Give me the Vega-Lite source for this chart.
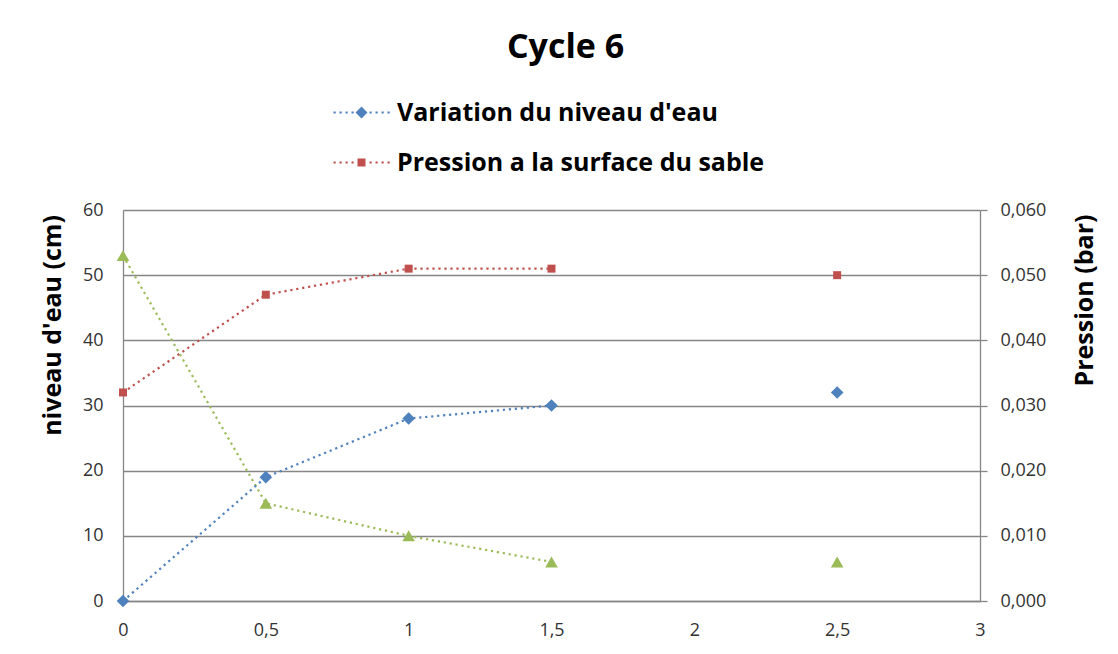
{
  "$schema": "https://vega.github.io/schema/vega-lite/v6.json",
  "width": 857,
  "height": 391,
  "autosize": {"type": "none"},
  "padding": {"left": 123, "top": 210, "right": 138, "bottom": 53},
  "background": "white",
  "config": {"view": {"stroke": null}, "font": "Open Sans"},
  "title": {"text": "Cycle 6", "font": "Open Sans", "fontSize": 34, "fontWeight": "bold", "color": "black", "anchor": "middle", "frame": "group", "dx": 14, "offset": 35},
  "data": {"values": [
    {"t": 0, "serie": "Variation du niveau d'eau", "value": 0},
    {"t": 0.5, "serie": "Variation du niveau d'eau", "value": 19},
    {"t": 1, "serie": "Variation du niveau d'eau", "value": 28},
    {"t": 1.5, "serie": "Variation du niveau d'eau", "value": 30},
    {"t": 2, "serie": "Variation du niveau d'eau", "value": null},
    {"t": 2.5, "serie": "Variation du niveau d'eau", "value": 32},
    {"t": 0, "serie": "Pression a la surface du sable", "value": 0.032},
    {"t": 0.5, "serie": "Pression a la surface du sable", "value": 0.047},
    {"t": 1, "serie": "Pression a la surface du sable", "value": 0.051},
    {"t": 1.5, "serie": "Pression a la surface du sable", "value": 0.051},
    {"t": 2, "serie": "Pression a la surface du sable", "value": null},
    {"t": 2.5, "serie": "Pression a la surface du sable", "value": 0.050},
    {"t": 0, "serie": "Série 3", "value": 53},
    {"t": 0.5, "serie": "Série 3", "value": 15},
    {"t": 1, "serie": "Série 3", "value": 10},
    {"t": 1.5, "serie": "Série 3", "value": 6},
    {"t": 2, "serie": "Série 3", "value": null},
    {"t": 2.5, "serie": "Série 3", "value": 6}
  ]},
  "encoding": {
    "x": {
      "field": "t", "type": "quantitative",
      "scale": {"domain": [0, 3], "nice": false, "zero": false},
      "axis": {
        "values": [0, 0.5, 1, 1.5, 2, 2.5, 3],
        "labelExpr": "replace(format(datum.value, ''), '.', ',')",
        "ticks": false, "grid": false,
        "domainColor": "#868686", "domainWidth": 1.3,
        "labelFontSize": 18, "labelColor": "#333333", "labelPadding": 20,
        "labelFont": "Open Sans", "labelFlush": false,
        "title": null
      }
    }
  },
  "layer": [
    {
      "encoding": {
        "y": {
          "field": "value", "type": "quantitative",
          "scale": {"domain": [0, 60], "nice": false},
          "axis": {
            "orient": "left",
            "values": [0, 10, 20, 30, 40, 50, 60],
            "grid": true, "gridColor": "#868686", "gridWidth": 1.3,
            "ticks": false,
            "domainColor": "#868686", "domainWidth": 1.3,
            "labelFontSize": 18, "labelColor": "#333333", "labelPadding": 20, "labelFont": "Open Sans",
            "title": "niveau d'eau (cm)",
            "titleFont": "Open Sans", "titleFontSize": 25, "titleFontWeight": "bold", "titleColor": "black",
            "titleAngle": 270, "titleX": -63, "titleY": 115, "titleAlign": "center", "titleBaseline": "alphabetic"
          }
        }
      },
      "layer": [
        {
          "transform": [{"filter": "datum.serie === 'Série 3'"}],
          "mark": {"type": "line", "color": "#9BBB59", "strokeWidth": 2.2, "strokeDash": [2.2, 3.8], "strokeCap": "butt", "invalid": "break-paths-show-domains"}
        },
        {
          "transform": [{"filter": "datum.serie === 'Série 3' && datum.value != null"}],
          "mark": {"type": "point", "shape": "triangle-up", "filled": true, "opacity": 1, "size": 160, "color": "#9BBB59"}
        },
        {
          "transform": [{"filter": "indexof(datum.serie, 'Variation') === 0"}],
          "mark": {"type": "line", "color": "#4F81BD", "strokeWidth": 2.2, "strokeDash": [2.2, 3.8], "strokeCap": "butt", "invalid": "break-paths-show-domains"}
        },
        {
          "transform": [{"filter": "indexof(datum.serie, 'Variation') === 0 && datum.value != null"}],
          "mark": {"type": "point", "shape": "diamond", "filled": true, "opacity": 1, "size": 160, "color": "#4F81BD"}
        },
        {
          "transform": [{"filter": "datum.serie !== 'Série 3' && datum.value != null"}],
          "mark": {"type": "point", "filled": true, "opacity": 0},
          "encoding": {
            "color": {
              "field": "serie", "type": "nominal",
              "scale": {"domain": ["Variation du niveau d'eau", "Pression a la surface du sable"], "range": ["#4F81BD", "#C0504D"]},
              "legend": {
                "orient": "none", "legendX": 226, "legendY": -110, "padding": 0,
                "title": null, "direction": "vertical",
                "symbolSize": 4, "symbolOpacity": 1, "symbolStrokeWidth": 0,
                "labelOffset": 23, "rowPadding": 24,
                "labelFont": "Open Sans", "labelFontSize": 25, "labelFontWeight": "bold", "labelColor": "black",
                "labelLimit": 600
              }
            },
            "shape": {
              "field": "serie", "type": "nominal",
              "scale": {
                "domain": ["Variation du niveau d'eau", "Pression a la surface du sable"],
                "range": [
                  "M-28,-1.1h2.2v2.2h-2.2ZM-22,-1.1h2.2v2.2h-2.2ZM-16,-1.1h2.2v2.2h-2.2ZM-10,-1.1h2.2v2.2h-2.2ZM8,-1.1h2.2v2.2h-2.2ZM14,-1.1h2.2v2.2h-2.2ZM20,-1.1h2.2v2.2h-2.2ZM26,-1.1h2.2v2.2h-2.2ZM0,-6L6,0L0,6L-6,0Z",
                  "M-28,-1.1h2.2v2.2h-2.2ZM-22,-1.1h2.2v2.2h-2.2ZM-16,-1.1h2.2v2.2h-2.2ZM-10,-1.1h2.2v2.2h-2.2ZM8,-1.1h2.2v2.2h-2.2ZM14,-1.1h2.2v2.2h-2.2ZM20,-1.1h2.2v2.2h-2.2ZM26,-1.1h2.2v2.2h-2.2ZM-4,-4h8v8h-8Z"
                ]
              },
              "legend": {
                "orient": "none", "legendX": 226, "legendY": -110, "padding": 0,
                "title": null, "direction": "vertical",
                "symbolSize": 4, "symbolOpacity": 1, "symbolStrokeWidth": 0,
                "labelOffset": 23, "rowPadding": 24,
                "labelFont": "Open Sans", "labelFontSize": 25, "labelFontWeight": "bold", "labelColor": "black",
                "labelLimit": 600
              }
            }
          }
        }
      ]
    },
    {
      "encoding": {
        "y": {
          "field": "value", "type": "quantitative",
          "scale": {"domain": [0, 0.06], "nice": false},
          "axis": {
            "orient": "right",
            "values": [0, 0.01, 0.02, 0.03, 0.04, 0.05, 0.06],
            "labelExpr": "replace(format(datum.value, '.3f'), '.', ',')",
            "grid": false,
            "ticks": true, "tickSize": 7, "tickColor": "#868686", "tickWidth": 1.3,
            "domainColor": "#868686", "domainWidth": 1.3,
            "labelFontSize": 18, "labelColor": "#333333", "labelPadding": 13, "labelFont": "Open Sans",
            "title": "Pression (bar)",
            "titleFont": "Open Sans", "titleFontSize": 25, "titleFontWeight": "bold", "titleColor": "black",
            "titleAngle": 270, "titleX": 112, "titleY": 90, "titleAlign": "center", "titleBaseline": "alphabetic"
          }
        }
      },
      "layer": [
        {
          "transform": [{"filter": "indexof(datum.serie, 'Pression') === 0"}],
          "mark": {"type": "line", "color": "#C0504D", "strokeWidth": 2.2, "strokeDash": [2.2, 3.8], "strokeCap": "butt", "invalid": "break-paths-show-domains"}
        },
        {
          "transform": [{"filter": "indexof(datum.serie, 'Pression') === 0 && datum.value != null"}],
          "mark": {"type": "point", "shape": "square", "filled": true, "opacity": 1, "size": 64, "color": "#C0504D"}
        }
      ]
    }
  ],
  "resolve": {"scale": {"y": "independent"}, "axis": {"y": "independent"}}
}
